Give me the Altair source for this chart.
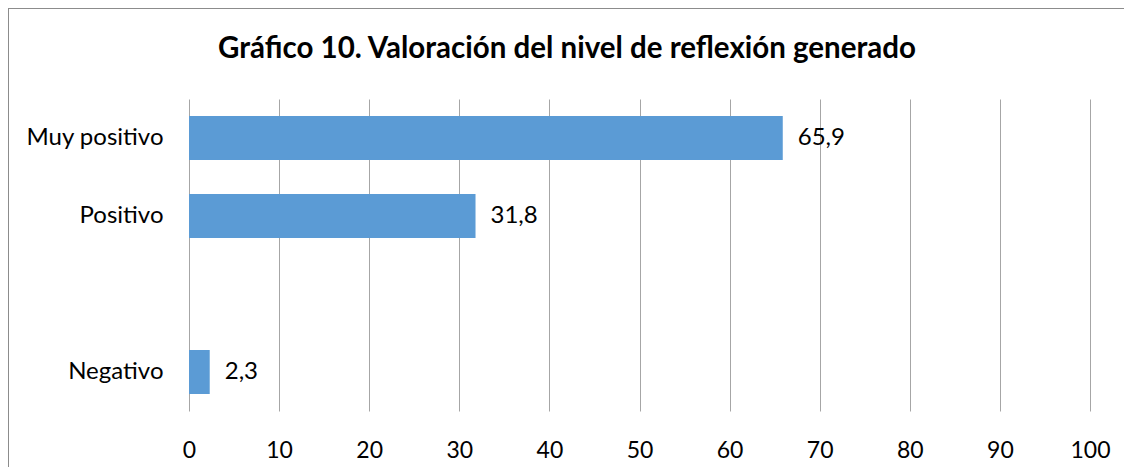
import altair as alt
import pandas as pd

categories = ["Muy positivo", "Positivo", " ", "Negativo"]
bar_categories = ["Muy positivo", "Positivo", "Negativo"]
bar_values = [65.9, 31.8, 2.3]
bar_labels = ["65,9", "31,8", "2,3"]
x_ticks = [0, 10, 20, 30, 40, 50, 60, 70, 80, 90, 100]
title_text = "Gráfico 10. Valoración del nivel de reflexión generado"

df = pd.DataFrame({"cat": bar_categories, "val": bar_values, "lab": bar_labels})
title_df = pd.DataFrame({"t": [title_text]})

FONT = "Lato"

y_enc = alt.Y(
    "cat:N",
    sort=categories,
    scale=alt.Scale(domain=categories, paddingInner=0.436, paddingOuter=0.218),
    axis=alt.Axis(title=None, domain=False, ticks=False, grid=False,
                  labelFontSize=24, labelFont=FONT, labelColor="#000000",
                  labelPadding=26),
)
x_enc = alt.X(
    "val:Q",
    scale=alt.Scale(domain=[0, 100], nice=False),
    axis=alt.Axis(title=None, values=x_ticks, domain=False, ticks=False,
                  grid=True, gridColor="#a6a6a6", gridWidth=1,
                  labelFontSize=23, labelFont=FONT, labelColor="#000000",
                  labelPadding=28, labelFlush=False),
)

base = alt.Chart(df)
bars = base.mark_bar(color="#5B9BD5").encode(x=x_enc, y=y_enc)
texts = base.mark_text(align="left", baseline="middle", dx=15, fontSize=24,
                       font=FONT, color="#000000").encode(
    x="val:Q", y=alt.Y("cat:N", sort=categories), text="lab:N")

title_mark = alt.Chart(title_df).mark_text(
    align="center", baseline="middle", font=FONT, fontSize=29.5,
    fontWeight="bold", color="#000000").encode(
    x=alt.value(378), y=alt.value(-50), text="t:N")

border_top = base.mark_rule(color="#8c8c8c", strokeWidth=1).encode(
    x=alt.value(-181), x2=alt.value(1200), y=alt.value(-90.5))
border_left = base.mark_rule(color="#8c8c8c", strokeWidth=1).encode(
    x=alt.value(-180.5), y=alt.value(-91), y2=alt.value(500))

chart = alt.layer(border_top, border_left, bars, texts, title_mark).properties(
    width=901,
    height=312,
    autosize=alt.AutoSizeParams(type="none"),
    padding={"left": 181, "top": 91, "right": 34, "bottom": 56},
).configure(background="white").configure_view(stroke=None)

chart.save("out.html", embed_options={"renderer": "svg", "actions": False})
